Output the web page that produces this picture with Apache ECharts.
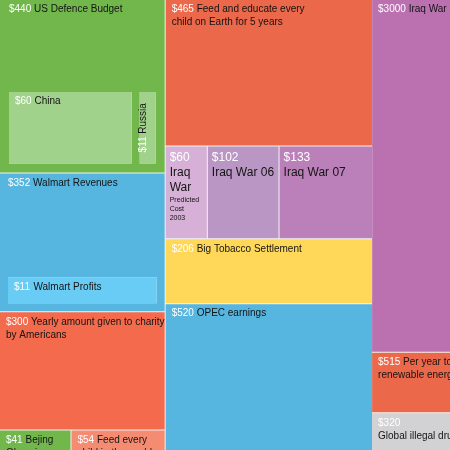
<!DOCTYPE html>
<html>
<head>
<meta charset="utf-8">
<script src="https://cdn.jsdelivr.net/npm/echarts@6/dist/echarts.min.js"></script>
<style>
  html, body { margin: 0; padding: 0; background: #fff; }
  #main { width: 450px; height: 450px; }
</style>
</head>
<body>
<div id="main"></div>
<script>
// all values in $ billions
const topicsA = ['US Defence Budget', 'Walmart Revenues', 'Yearly amount given to charity\nby Americans'];
const valuesA = [440, 352, 300];
const rivals = ['China', 'Russia'];              // drawn inside the defence budget
const rivalValues = [60, 11];
const walmartProfit = ['Walmart Profits'];       // drawn inside walmart revenues
const walmartProfitValue = [11];
const smallA = ['Bejing Olympics', 'Feed every child in the world'];
const smallAValues = [41, 54];
const topicsB = ['Feed and educate every\nchild on Earth for 5 years', 'Big Tobacco Settlement', 'OPEC earnings'];
const valuesB = [465, 206, 520];
const iraqYears = ['Iraq War', 'Iraq War 06', 'Iraq War 07'];
const iraqNotes = ['Predicted Cost 2003', '', ''];
const iraqValues = [60, 102, 133];
const topicsC = ['Iraq War estimate', 'Per year to switch to\nrenewable energies', 'Global illegal drug trade'];
const valuesC = [3000, 515, 320];

const FONT = 'Liberation Sans';
const GAP = '#f3f3f3';
const GREEN = '#71b74b', LIGHT_GREEN = '#a0d28c';
const BLUE = '#56b6df', LIGHT_BLUE = '#68ccf4';
const ORANGE = '#eb684a', RED = '#f36a4c', SALMON = '#f58c72';
const YELLOW = '#ffd85a', GREY = '#d2d2d4';
const IRAQ_COLORS = ['#d6b0d6', '#ba96c4', '#bb80b9'];
const C_COLORS = ['#bb70af', '#ec684a', GREY];

// same px² per $bn for both treemaps
const AREA_PER_BN = 65;
const LEFT_H = 467, RIGHT_H = 450;
const sum = a => a.reduce((s, v) => s + v, 0);
const leftTotal = sum(valuesA) + sum(smallAValues) + sum(valuesB) + sum(iraqValues);
const rightTotal = sum(valuesC);
const leftW = leftTotal * AREA_PER_BN / LEFT_H;
const rightW = rightTotal * AREA_PER_BN / RIGHT_H;

const inline = p => '{v|$' + p.value + '} {n|' + p.name + '}';
const stacked = p => '{v|$' + p.value + '}{n|\n' + p.name + '}';
const lines = s => s.split(' ').join('\n');
const iraqLabel = (note, narrow) => p =>
    '{V|$' + p.value + '}{b|\n' + (narrow ? lines(p.name) : p.name) + '}' +
    (note ? '{s|\n' + lines(note) + '}' : '');

function leaf(name, value, color, extra) {
    return Object.assign({ name: name, value: value, itemStyle: { color: color } }, extra || {});
}
function group(name, children) {
    return { name: name, children: children };
}

const defence = {
    name: topicsA[0], value: valuesA[0],
    itemStyle: { color: GREEN, borderColor: GREEN, borderWidth: 9, gapWidth: 8 },
    upperLabel: { show: true, height: 92 },
    children: [
        leaf(rivals[0], rivalValues[0], LIGHT_GREEN),
        leaf(rivals[1], rivalValues[1], LIGHT_GREEN, {
            label: {
                position: 'inside', rotate: 90, overflow: 'none', padding: 0,
                formatter: p => '{rv|$' + p.value + '} {rn|' + p.name + '}'
            }
        })
    ]
};
const walmart = {
    name: topicsA[1], value: valuesA[1],
    itemStyle: { color: BLUE, borderColor: BLUE, borderWidth: 8, gapWidth: 0 },
    upperLabel: { show: true, height: 104 },
    children: [leaf(walmartProfit[0], walmartProfitValue[0], LIGHT_BLUE)]
};
const charity = leaf(topicsA[2], valuesA[2], RED, { label: { overflow: 'none' } });
const iraq = iraqYears.map((n, i) =>
    leaf(n, iraqValues[i], IRAQ_COLORS[i], {
        label: { formatter: iraqLabel(iraqNotes[i], i === 0), padding: [4, 4], overflow: 'none' }
    }));

const leftData = [
    group('A', [
        group('A upper', [defence, group('A mid', [walmart, charity])]),
        group('A small', smallA.map((n, i) => leaf(n, smallAValues[i], [GREEN, SALMON][i])))
    ]),
    group('B', [
        group('B upper', [
            group('B top', [
                leaf(topicsB[0], valuesB[0], ORANGE),
                group('Iraq', [iraq[0], group('Iraq later', [iraq[1], iraq[2]])])
            ]),
            leaf(topicsB[1], valuesB[1], YELLOW)
        ]),
        leaf(topicsB[2], valuesB[2], BLUE)
    ])
];
const rightData = topicsC.map((n, i) =>
    leaf(n, valuesC[i], C_COLORS[i], i === 2 ? { label: { formatter: stacked } } : {}));

const rich = {
    v: { color: '#fff', fontFamily: FONT, fontSize: 10, lineHeight: 13 },
    n: { color: '#141414', fontFamily: FONT, fontSize: 10, lineHeight: 13 },
    V: { color: '#fff', fontFamily: FONT, fontSize: 12, lineHeight: 15 },
    b: { color: '#141414', fontFamily: FONT, fontSize: 12, lineHeight: 15 },
    s: { color: '#141414', fontFamily: FONT, fontSize: 7, lineHeight: 9 },
    rv: { color: '#fff', fontFamily: FONT, fontSize: 10, lineHeight: 62 },
    rn: { color: '#141414', fontFamily: FONT, fontSize: 10, lineHeight: 62 }
};
const labelOpt = {
    show: true, position: 'insideTopLeft', distance: 0, padding: [3, 2, 3, 6],
    fontFamily: FONT, fontSize: 10, lineHeight: 13, overflow: 'break',
    formatter: inline, rich: rich
};

function treemap(data, box, ratio) {
    return Object.assign({
        type: 'treemap',
        sort: false,
        squareRatio: ratio,
        roam: false,
        nodeClick: false,
        drillDownIcon: '',
        breadcrumb: { show: false },
        animation: false,
        itemStyle: { borderWidth: 0, gapWidth: 1, borderColor: GAP },
        label: labelOpt,
        upperLabel: Object.assign({}, labelOpt, { show: false, padding: [3, 0], verticalAlign: 'top' }),
        data: data
    }, box);
}

const chart = echarts.init(document.getElementById('main'));
chart.setOption({
    animation: false,
    textStyle: { fontFamily: FONT },
    series: [
        treemap(leftData, { left: 0, top: 0, width: leftW, height: LEFT_H }, 1.3),
        treemap(rightData, { left: leftW, top: 0, width: rightW, height: RIGHT_H }, 8)
    ]
});
</script>
</body>
</html>
